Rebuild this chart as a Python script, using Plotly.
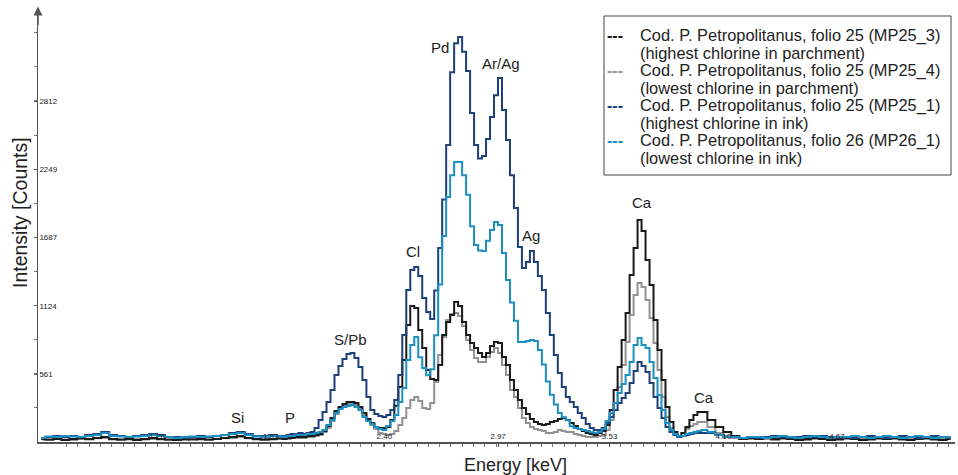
import plotly.graph_objects as go

# ---------------- data ----------------
energy_kev = [
    0.68, 0.72, 0.76, 0.80, 0.84, 0.88, 0.92, 0.96, 1.00, 1.04,
    1.08, 1.12, 1.16, 1.20, 1.24, 1.28, 1.32, 1.36, 1.40, 1.44,
    1.48, 1.52, 1.56, 1.60, 1.64, 1.68, 1.72, 1.76, 1.80, 1.84,
    1.88,
    1.90, 1.92, 1.94, 1.96, 1.98, 2.00, 2.02, 2.04, 2.06, 2.08,
    2.10, 2.12, 2.14, 2.16, 2.18, 2.20, 2.22, 2.24, 2.26, 2.28,
    2.30, 2.32, 2.34, 2.36, 2.38, 2.40, 2.42, 2.44, 2.46, 2.48,
    2.50, 2.52, 2.54, 2.56, 2.58, 2.60, 2.62, 2.64, 2.66, 2.68,
    2.70, 2.72, 2.74, 2.76, 2.78, 2.80, 2.82, 2.84, 2.86, 2.88,
    2.90, 2.92, 2.94, 2.96, 2.98, 3.00, 3.02, 3.04, 3.06, 3.08,
    3.10, 3.12, 3.14, 3.16, 3.18, 3.20, 3.22, 3.24, 3.26, 3.28,
    3.30, 3.32, 3.34, 3.36, 3.38, 3.40, 3.42, 3.44, 3.46, 3.48,
    3.50, 3.52, 3.54, 3.56, 3.58, 3.60, 3.62, 3.64, 3.66, 3.68,
    3.70, 3.72, 3.74, 3.76, 3.78, 3.80, 3.82, 3.84, 3.86, 3.88,
    3.90, 3.92, 3.94, 3.96, 3.98, 4.00,
    4.04, 4.08, 4.12, 4.16, 4.20, 4.24, 4.28, 4.32, 4.36, 4.40,
    4.44, 4.48, 4.52, 4.56, 4.60, 4.64, 4.68, 4.72, 4.76, 4.80,
    4.84, 4.88, 4.92, 4.96, 5.00, 5.04, 5.08, 5.12, 5.16, 5.20,
    5.24,
]

# MP25_3 (black) - highest chlorine in parchment
counts_mp25_3 = [
    25, 20, 25, 17, 25, 30, 25, 33, 41, 25,
    20, 25, 17, 25, 33, 25, 20, 17, 25, 20,
    25, 20, 25, 33, 41, 50, 33, 25, 20, 25,
    30,
    25, 33, 33, 41, 41, 41, 50, 50, 58, 66,
    91, 132, 198, 256, 289, 314, 330, 330, 322, 289,
    239, 190, 157, 124, 116, 116, 124, 182, 300, 454,
    677, 965, 1122, 1106, 924, 776, 594, 520, 512, 635,
    883, 990, 1048, 1155, 1122, 990, 883, 817, 776, 734,
    701, 734, 792, 825, 817, 701, 635, 512, 429, 347,
    281, 231, 190, 165, 149, 140, 149, 165, 173, 190,
    198, 182, 157, 132, 107, 91, 74, 66, 58, 74,
    91, 140, 264, 429, 619, 842, 1064, 1378, 1601, 1832,
    1740, 1502, 1295, 1007, 759, 512, 289, 165, 83, 50,
    74, 124, 182, 223, 248, 248,
    182, 124, 83, 50, 25, 33, 25, 33, 25, 33,
    25, 17, 25, 33, 25, 17, 25, 33, 25, 17,
    25, 33, 25, 33, 25, 17, 25, 33, 25, 17,
    25,
]

# MP25_4 (grey) - lowest chlorine in parchment
counts_mp25_4 = [
    20, 17, 25, 20, 17, 25, 20, 30, 33, 20,
    17, 20, 25, 20, 25, 20, 17, 20, 17, 25,
    20, 17, 25, 30, 33, 41, 30, 20, 17, 20,
    25,
    25, 25, 33, 33, 33, 33, 41, 41, 50, 58,
    83, 116, 173, 231, 272, 297, 314, 314, 305, 272,
    223, 182, 140, 107, 74, 66, 58, 66, 91, 140,
    198, 281, 347, 371, 338, 281, 272, 322, 495, 718,
    866, 1007, 1056, 1064, 1040, 957, 842, 759, 693, 660,
    660, 701, 743, 776, 734, 635, 553, 429, 371, 281,
    198, 157, 124, 107, 99, 91, 74, 74, 83, 99,
    91, 83, 83, 66, 58, 50, 41, 41, 41, 50,
    58, 99, 182, 322, 454, 635, 825, 1048, 1213, 1312,
    1279, 1172, 1023, 817, 594, 371, 206, 116, 74, 41,
    74, 107, 132, 149, 165, 165,
    124, 74, 50, 33, 25, 25, 33, 25, 17, 25,
    33, 25, 17, 25, 33, 25, 17, 25, 33, 25,
    17, 25, 33, 25, 17, 25, 33, 25, 17, 25,
    33,
]

# MP25_1 (dark blue) - highest chlorine in ink
counts_mp25_1 = [
    33, 41, 50, 41, 50, 41, 58, 66, 83, 58,
    50, 41, 50, 58, 66, 58, 41, 41, 33, 41,
    50, 41, 50, 58, 74, 83, 66, 50, 50, 58,
    50,
    50, 58, 66, 66, 74, 66, 74, 83, 116, 182,
    248, 330, 429, 553, 627, 685, 726, 734, 693, 619,
    512, 371, 264, 231, 215, 206, 223, 264, 347, 553,
    883, 1254, 1419, 1444, 1370, 1188, 1073, 1015, 1250, 1600,
    2000, 2450, 3050, 3290, 3341, 3220, 3060, 2714, 2450, 2340,
    2360, 2500, 2681, 2860, 3003, 2740, 2492, 2200, 1930, 1609,
    1436, 1485, 1576, 1485, 1370, 1254, 1064, 883, 718, 569,
    454, 371, 330, 289, 239, 198, 149, 116, 99, 99,
    116, 157, 206, 264, 322, 363, 404, 487, 586, 660,
    627, 578, 487, 371, 281, 198, 124, 83, 58, 41,
    50, 58, 66, 74, 74, 74,
    74, 58, 41, 41, 33, 41, 33, 41, 50, 41,
    33, 41, 50, 41, 50, 41, 33, 41, 33, 41,
    50, 41, 33, 41, 50, 41, 33, 41, 50, 41,
    33,
]

# MP26_1 (light blue) - lowest chlorine in ink
counts_mp26_1 = [
    33, 45, 41, 50, 45, 41, 50, 58, 74, 50,
    45, 41, 45, 50, 58, 50, 41, 33, 41, 45,
    41, 45, 50, 58, 66, 74, 58, 45, 41, 50,
    45,
    41, 50, 50, 58, 58, 58, 66, 66, 74, 83,
    99, 140, 182, 239, 272, 289, 297, 305, 289, 264,
    206, 173, 149, 124, 107, 99, 132, 173, 223, 330,
    446, 677, 800, 866, 700, 610, 550, 600, 880, 1300,
    1700, 2021, 2200, 2310, 2310, 2200, 2040, 1780, 1625, 1580,
    1575, 1660, 1749, 1815, 1790, 1560, 1337, 1150, 1000, 825,
    825, 833, 842, 833, 760, 640, 500, 390, 310, 240,
    205, 180, 130, 115, 107, 99, 91, 80, 74, 83,
    107, 173, 239, 322, 404, 479, 553, 660, 800, 858,
    800, 776, 660, 528, 388, 264, 157, 99, 66, 50,
    50, 66, 74, 83, 91, 99,
    83, 58, 41, 41, 33, 41, 41, 33, 41, 50,
    41, 33, 41, 50, 41, 33, 41, 41, 50, 41,
    33, 41, 50, 41, 33, 41, 50, 41, 33, 41,
    41,
]

series_names = [
    "Cod. P. Petropolitanus, folio 25 (MP25_3)",
    "Cod. P. Petropolitanus, folio 25 (MP25_4)",
    "Cod. P. Petropolitanus, folio 25 (MP25_1)",
    "Cod. P. Petropolitanus, folio 26 (MP26_1)",
]
series_notes = [
    "(highest chlorine in parchment)",
    "(lowest chlorine in parchment)",
    "(highest chlorine in ink)",
    "(lowest chlorine in ink)",
]

y_tick_values = [561, 1124, 1687, 2249, 2812]
y_tick_labels = ["561", "1124", "1687", "2249", "2812"]
x_tick_values = [1.26, 1.83, 2.40, 2.97, 3.53, 4.10, 4.67]
x_tick_labels = ["1.26", "1.83", "2.40", "2.97", "3.53", "4.10", "4.67"]

peak_labels = ["Si", "P", "S/Pb", "Cl", "Pd", "Ar/Ag", "Ag", "Ca", "Ca"]
peak_label_energy = [1.666, 1.927, 2.228, 2.544, 2.679, 2.985, 3.136, 3.692, 4.003]
peak_label_counts = [206, 206, 842, 1568, 3251, 3127, 1700, 1972, 371]

# ---------------- styling ----------------
colors = ["#1a1a1a", "#929292", "#1d3f7a", "#1a8fc4"]
series_values = [counts_mp25_3, counts_mp25_4, counts_mp25_1, counts_mp26_1]
draw_order = [1, 0, 2, 3]
FONT = "Arial, Liberation Sans, sans-serif"

W, H = 958, 475
ML, MR, MT, MB = 38, 3, 15, 33
PW, PH = W - ML - MR, H - MT - MB


def px_x(px):
    return (px - ML) / PW


def px_y(py):
    return (H - MB - py) / PH


fig = go.Figure()

for i in draw_order:
    fig.add_trace(go.Scatter(
        x=energy_kev, y=series_values[i], mode="lines",
        line=dict(color=colors[i], width=2, shape="hvh"),
        name=series_names[i] + " " + series_notes[i],
        showlegend=False, hoverinfo="skip",
    ))

annotations = []
for lab, ex, cy in zip(peak_labels, peak_label_energy, peak_label_counts):
    annotations.append(dict(
        x=ex, y=cy, xref="x", yref="y", text=lab, showarrow=False,
        font=dict(size=15, color="#222", family=FONT),
    ))

# axis titles
annotations.append(dict(
    x=px_x(515), y=px_y(465), xref="paper", yref="paper", text="Energy [keV]",
    showarrow=False, xanchor="center", yanchor="middle",
    font=dict(size=18, color="#222", family=FONT),
))
annotations.append(dict(
    x=px_x(20), y=px_y(213), xref="paper", yref="paper", text="Intensity [Counts]",
    showarrow=False, xanchor="center", yanchor="middle", textangle=-90,
    font=dict(size=19.5, color="#222", family=FONT),
))

# arrow at top of y axis
annotations.append(dict(
    x=0, y=1.02, xref="paper", yref="paper", ax=0, ay=20, axref="pixel", ayref="pixel",
    text="", showarrow=True, arrowhead=2, arrowsize=1.2, arrowwidth=1.5, arrowcolor="#555",
))

# legend box (drawn as text entries)
legend_top_line = 35
legend_line_step = 17.6
for i in range(4):
    y1 = legend_top_line + legend_line_step * (2 * i)
    y2 = y1 + legend_line_step
    annotations.append(dict(
        x=px_x(605), y=px_y(y1), xref="paper", yref="paper", text="<b>---</b>",
        showarrow=False, xanchor="left", yanchor="middle",
        font=dict(size=16, color=colors[i], family=FONT),
    ))
    annotations.append(dict(
        x=px_x(638), y=px_y(y1), xref="paper", yref="paper", text=series_names[i],
        showarrow=False, xanchor="left", yanchor="middle",
        font=dict(size=16.4, color="#222", family=FONT),
    ))
    annotations.append(dict(
        x=px_x(638), y=px_y(y2), xref="paper", yref="paper", text=series_notes[i],
        showarrow=False, xanchor="left", yanchor="middle",
        font=dict(size=16.4, color="#222", family=FONT),
    ))

shapes = [dict(
    type="rect", xref="paper", yref="paper",
    x0=px_x(604), x1=px_x(951), y0=px_y(175), y1=px_y(16),
    line=dict(color="#444", width=1), fillcolor="white", layer="below",
)]

fig.update_layout(
    width=W, height=H,
    margin=dict(l=ML, r=MR, t=MT, b=MB),
    paper_bgcolor="white", plot_bgcolor="white",
    font=dict(family=FONT, color="#222"),
    annotations=annotations, shapes=shapes,
    showlegend=False,
    xaxis=dict(
        range=[0.663, 5.262], showgrid=False, zeroline=False, automargin=False,
        showline=True, linecolor="#555", linewidth=1.5,
        tickvals=x_tick_values, ticktext=x_tick_labels,
        ticks="outside", ticklen=3, tickcolor="#555",
        ticklabelposition="inside",
        tickfont=dict(size=8, color="#222", family=FONT),
        minor=dict(dtick=0.0567, tick0=1.26, ticks="outside", ticklen=3, tickcolor="#777"),
    ),
    yaxis=dict(
        range=[0, 3523], showgrid=False, zeroline=False, automargin=False,
        showline=True, linecolor="#555", linewidth=1.5,
        tickvals=y_tick_values, ticktext=y_tick_labels,
        ticks="outside", ticklen=3, tickcolor="#555",
        ticklabelposition="inside",
        tickfont=dict(size=8, color="#222", family=FONT),
        minor=dict(dtick=281.4, tick0=0, ticks="outside", ticklen=3, tickcolor="#777"),
    ),
)

fig.write_html(
    "out.html",
    config={"displayModeBar": False, "staticPlot": True},
    post_script="document.body.style.margin='0';document.body.style.overflow='hidden';",
)
